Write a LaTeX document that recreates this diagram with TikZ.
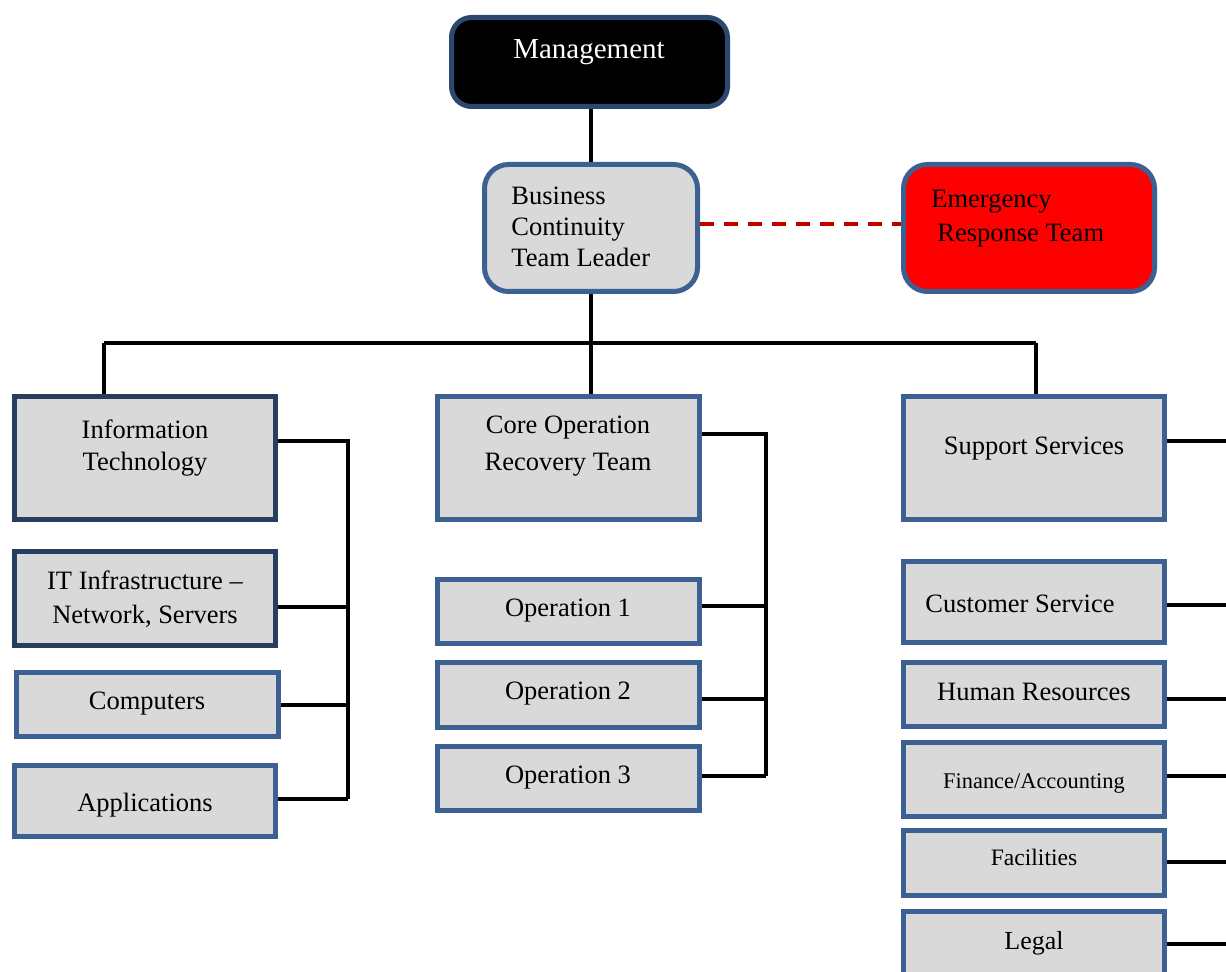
\documentclass[tikz,border=0pt]{standalone}
\usepackage{fontspec}
\setmainfont{Liberation Serif}
\usetikzlibrary{fit}
\definecolor{boxblue}{RGB}{60,96,145}
\definecolor{boxnavy}{RGB}{38,62,96}
\definecolor{mgborder}{RGB}{44,72,110}
\definecolor{boxfill}{RGB}{217,217,217}
\definecolor{dashred}{RGB}{192,0,0}
\tikzset{
  box/.style={draw=boxblue, line width=2.5pt, fill=boxfill, inner sep=0pt},
  navybox/.style={box, draw=boxnavy},
  roundbox/.style={box, rounded corners=12pt},
  txt/.style={inner sep=0pt, font=\fontsize{13.25}{15.5}\selectfont},
  wire/.style={line width=1.6pt, draw=black},
  link/.style={line width=1.7pt, draw=dashred, dash pattern=on 7pt off 5pt},
}
\begin{document}
\begin{tikzpicture}[x=0.5pt, y=-0.5pt]
\useasboundingbox (0,0) rectangle (1226,972);
\clip (0,0) rectangle (1226,972);
\fill[white] (0,0) rectangle (1226,972);

% top of the chart
\node[roundbox, draw=mgborder, fill=black, rounded corners=10pt, fit={(451.5,17.5) (727.5,106.5)}] (mg) {};
\node[txt, anchor=base, text=white, font=\fontsize{14.5}{17}\selectfont] (mgt) at (589,59) {Management};

\node[roundbox, fit={(484.5,164.5) (697.5,291.5)}] (bc) {};
\node[txt, anchor=base west] (bct1) at (511,205) {Business};
\node[txt, anchor=base west] (bct2) at (511,236) {Continuity};
\node[txt, anchor=base west] (bct3) at (511,267) {Team Leader};

\node[roundbox, fill=red, fit={(903.5,164.5) (1154.5,291.5)}] (ert) {};
\node[txt, anchor=base west] (ert1) at (931,208) {Emergency};
\node[txt, anchor=base west] (ert2) at (937,242) {Response Team};

% information technology column
\node[navybox, fit={(14.5,396.5) (275.5,519.5)}] (it) {};
\node[txt, anchor=base] (itt1) at (145,439) {Information};
\node[txt, anchor=base] (itt2) at (145,471) {Technology};

\node[navybox, fit={(14.5,551.5) (275.5,645.5)}] (iti) {};
\node[txt, anchor=base] (itit1) at (145,589) {IT Infrastructure –};
\node[txt, anchor=base] (itit2) at (145,624) {Network, Servers};

\node[box, fit={(16.5,672.5) (278.5,736.5)}] (cp) {};
\node[txt, anchor=base] (cpt) at (147,709) {Computers};

\node[box, fit={(14.5,765.5) (275.5,836.5)}] (ap) {};
\node[txt, anchor=base] (apt) at (145,811) {Applications};

% core operation column
\node[box, fit={(437.5,396.5) (699.5,519.5)}] (cor) {};
\node[txt, anchor=base] (cort1) at (568,434) {Core Operation};
\node[txt, anchor=base] (cort2) at (568,471) {Recovery Team};

\node[box, fit={(437.5,579.5) (699.5,643.5)}] (op1) {};
\node[txt, anchor=base] (op1t) at (568,617) {Operation 1};
\node[box, fit={(437.5,662.5) (699.5,727.5)}] (op2) {};
\node[txt, anchor=base] (op2t) at (568,699) {Operation 2};
\node[box, fit={(437.5,746.5) (699.5,810.5)}] (op3) {};
\node[txt, anchor=base] (op3t) at (568,783) {Operation 3};

% support services column
\node[box, fit={(903.5,396.5) (1164.5,519.5)}] (ss) {};
\node[txt, anchor=base] (sst) at (1034,455) {Support Services};

\node[box, fit={(903.5,561.5) (1164.5,642.5)}] (cs) {};
\node[txt, anchor=base west] (cst) at (925,612) {Customer Service};
\node[box, fit={(903.5,662.5) (1164.5,726.5)}] (hr) {};
\node[txt, anchor=base] (hrt) at (1034,700) {Human Resources};
\node[box, fit={(903.5,742.5) (1164.5,816.5)}] (fin) {};
\node[txt, anchor=base, font=\fontsize{11.2}{13}\selectfont] (fint) at (1034,788) {Finance/Accounting};
\node[box, fit={(903.5,830.5) (1164.5,895.5)}] (fac) {};
\node[txt, anchor=base, font=\fontsize{11.8}{14}\selectfont] (fact) at (1034,865) {Facilities};
\node[box, fit={(903.5,911.5) (1164.5,1007.5)}] (lg) {};
\node[txt, anchor=base, font=\fontsize{13}{15}\selectfont] (lgt) at (1034,949) {Legal};

% reporting lines
\coordinate (busL) at (104,343);
\coordinate (busR) at (1036,343);
\coordinate (itsp) at (348,441);
\coordinate (corsp) at (766,434);
\coordinate (edge) at (1226,0);

\draw[wire] (bc.north |- mg.south) -- (bc.north);
\draw[link] (bc.east |- 0,224) -- (ert.west |- 0,224);
\draw[wire] (bc.south) -- (bc.south |- cor.north);
\draw[wire] (busL) -- (busR);
\draw[wire] (busL) -- (busL |- it.north);
\draw[wire] (busR) -- (busR |- ss.north);

\draw[wire] (itsp -| it.east) -- (itsp) -- (itsp |- 0,799);
\draw[wire] (iti.east |- 0,607) -- (itsp |- 0,607);
\draw[wire] (cp.east |- 0,705) -- (itsp |- 0,705);
\draw[wire] (ap.east |- 0,799) -- (itsp |- 0,799);

\draw[wire] (corsp -| cor.east) -- (corsp) -- (corsp |- 0,776);
\draw[wire] (op1.east |- 0,606) -- (corsp |- 0,606);
\draw[wire] (op2.east |- 0,699) -- (corsp |- 0,699);
\draw[wire] (op3.east |- 0,776) -- (corsp |- 0,776);

\draw[wire] (ss.east |- 0,441) -- (edge |- 0,441);
\draw[wire] (cs.east |- 0,605) -- (edge |- 0,605);
\draw[wire] (hr.east |- 0,699) -- (edge |- 0,699);
\draw[wire] (fin.east |- 0,776) -- (edge |- 0,776);
\draw[wire] (fac.east |- 0,862) -- (edge |- 0,862);
\draw[wire] (lg.east |- 0,944) -- (edge |- 0,944);
\end{tikzpicture}
\end{document}
